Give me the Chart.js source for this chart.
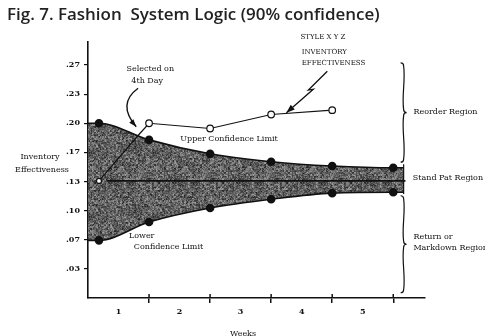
<!DOCTYPE html>
<html>
<head>
<meta charset="utf-8">
<script src="https://cdn.jsdelivr.net/npm/chart.js@4.4.1/dist/chart.umd.min.js"></script>
<style>
html,body{margin:0;padding:0;background:#fff;}
#wrap{width:485px;height:336px;position:relative;}
</style>
</head>
<body>
<div id="wrap"><canvas id="c" width="485" height="336"></canvas></div>
<script>
// ---- data ----
const weeks        = [0, 0.18, 1, 2, 3, 4, 5, 5.17];
const upperLimit   = [0.200, 0.200, 0.181, 0.165, 0.156, 0.151, 0.149, 0.149];
const lowerLimit   = [0.066, 0.066, 0.087, 0.103, 0.113, 0.120, 0.121, 0.121];
const limitMarkers = [false, true, true, true, true, true, true, false];
const styleWeeks   = [0.18, 0.82, 1, 2, 3, 4];
const styleXYZ     = [0.134, 0.186, 0.200, 0.194, 0.210, 0.215];
const styleMarkers = [true, false, true, true, true, true];
const meanWeeks    = [0.3, 5.2];
const meanValue    = [0.134, 0.134];
const weekTicks    = [1, 2, 3, 4, 5];
const weekLabels   = ['1', '2', '3', '4', '5'];
const yTickValues  = [1/30, 2/30, 3/30, 4/30, 5/30, 6/30, 7/30, 8/30];
const yTickLabels  = ['.03', '.07', '.10', '.13', '.17', '.20', '.23', '.27'];

const pts = (xs, ys) => xs.map((x, i) => ({x: x, y: ys[i]}));

// deterministic speckle texture for the confidence band
function makePattern() {
  const c = document.createElement('canvas');
  c.width = 64; c.height = 64;
  const g = c.getContext('2d');
  const img = g.createImageData(64, 64);
  for (let y = 0; y < 64; y++) {
    for (let x = 0; x < 64; x++) {
      const h = Math.sin(x * 12.9898 + y * 78.233) * 43758.5453;
      const f = h - Math.floor(h);
      const h2 = Math.sin((x >> 1) * 39.346 + (y >> 1) * 11.135) * 24634.634;
      const f2 = h2 - Math.floor(h2);
      const v = Math.round(30 + 135 * (0.5 * f + 0.5 * f2));
      const k = (y * 64 + x) * 4;
      img.data[k] = v; img.data[k+1] = v; img.data[k+2] = v; img.data[k+3] = 255;
    }
  }
  g.putImageData(img, 0, 0);
  return document.getElementById('c').getContext('2d').createPattern(c, 'repeat');
}

const SERIF = '"DejaVu Serif", "Liberation Serif", serif';

const decor = {
  id: 'decor',
  afterDraw(chart) {
    const ctx = chart.ctx;
    const xs = chart.scales.x, ys = chart.scales.y;
    const X = w => xs.getPixelForValue(w);
    const Y = v => ys.getPixelForValue(v);
    ctx.save();
    ctx.fillStyle = '#111';
    ctx.strokeStyle = '#111';

    // title, sized to span the same width as in the figure
    const title = 'Fig. 7. Fashion  System Logic (90% confidence)';
    ctx.font = '600 16px "Open Sans", Lato, sans-serif';
    const tw = ctx.measureText(title).width;
    const fs = 16 * 373 / tw;
    ctx.font = '600 ' + fs.toFixed(2) + 'px "Open Sans", Lato, sans-serif';
    ctx.textBaseline = 'alphabetic';
    ctx.textAlign = 'left';
    ctx.fillStyle = '#222';
    ctx.fillText(title, 7, 20);
    ctx.fillStyle = '#111';

    // x tick marks crossing the axis
    ctx.lineWidth = 1.5;
    weekTicks.forEach(w => {
      ctx.beginPath();
      ctx.moveTo(X(w), xs.top - 4);
      ctx.lineTo(X(w), xs.top);
      ctx.stroke();
    });

    const text = (t, w, v, align, font) => {
      ctx.font = font || ('8px ' + SERIF);
      ctx.textAlign = align || 'left';
      ctx.textBaseline = 'middle';
      ctx.fillText(t, X(w), Y(v));
    };

    // y-axis title (horizontal)
    ctx.font = '8px ' + SERIF;
    ctx.textAlign = 'center';
    ctx.textBaseline = 'middle';
    ctx.fillText('Inventory', 40, 157);
    ctx.fillText('Effectiveness', 42, 170);

    // x-axis title
    ctx.fillText('Weeks', X(2.54), 334);

    // annotations
    text('Selected on', 1.02, 0.262, 'center');
    text('4th Day', 0.97, 0.249, 'center');
    text('Upper Confidence Limit', 2.31, 0.182, 'center');
    text('Lower', 0.67, 0.071, 'left');
    text('Confidence Limit', 0.75, 0.058, 'left');
    text('STYLE X Y Z', 3.48, 0.2985, 'left', '7px ' + SERIF);
    text('INVENTORY', 3.5, 0.281, 'left', '7px ' + SERIF);
    text('EFFECTIVENESS', 3.5, 0.269, 'left', '7px ' + SERIF);
    text('Reorder Region', 5.33, 0.213, 'left');
    text('Stand Pat Region', 5.32, 0.137, 'left');
    text('Return or', 5.33, 0.070, 'left');
    text('Markdown Region', 5.33, 0.057, 'left');

    const arrowHead = (x0, y0, x1, y1, size) => {
      const a = Math.atan2(y1 - y0, x1 - x0);
      ctx.beginPath();
      ctx.moveTo(x1, y1);
      ctx.lineTo(x1 - size * Math.cos(a - 0.35), y1 - size * Math.sin(a - 0.35));
      ctx.lineTo(x1 - size * Math.cos(a + 0.35), y1 - size * Math.sin(a + 0.35));
      ctx.closePath();
      ctx.fill();
    };

    // curved arrow "Selected on 4th Day"
    ctx.lineWidth = 1.4;
    const ax0 = X(0.82), ay0 = Y(0.240), acx = X(0.47), acy = Y(0.222), ax1 = X(0.79), ay1 = Y(0.196);
    ctx.beginPath();
    ctx.moveTo(ax0, ay0);
    ctx.quadraticCurveTo(acx, acy, ax1, ay1);
    ctx.stroke();
    arrowHead(acx + (ax1 - acx) * 0.7, acy + (ay1 - acy) * 0.7, ax1, ay1, 8);

    // lightning arrow to the style line
    const L = [[3.92, 0.2595], [3.61, 0.238], [3.69, 0.239], [3.25, 0.212]];
    ctx.lineWidth = 1.3;
    ctx.beginPath();
    L.forEach((p, i) => { const px = X(p[0]), py = Y(p[1]); i ? ctx.lineTo(px, py) : ctx.moveTo(px, py); });
    ctx.stroke();
    arrowHead(X(L[2][0]), Y(L[2][1]), X(L[3][0]), Y(L[3][1]), 9);

    // braces
    const brace = (x, y1, y2, w) => {
      const ym = (y1 + y2) / 2;
      ctx.beginPath();
      ctx.moveTo(x - w, y1);
      ctx.quadraticCurveTo(x, y1, x, y1 + w);
      ctx.bezierCurveTo(x + 2, y1 + (ym - y1) * 0.35, x - 2, y1 + (ym - y1) * 0.65, x, ym - w);
      ctx.quadraticCurveTo(x, ym, x + w, ym);
      ctx.quadraticCurveTo(x, ym, x, ym + w);
      ctx.bezierCurveTo(x - 2, ym + (y2 - ym) * 0.35, x + 2, ym + (y2 - ym) * 0.65, x, y2 - w);
      ctx.quadraticCurveTo(x, y2, x - w, y2);
      ctx.stroke();
    };
    ctx.lineWidth = 1.2;
    const bx = X(5.17);
    brace(bx, Y(0.269), Y(0.1555), 3);
    brace(bx, Y(0.117), Y(0.006), 3);
    ctx.beginPath();
    ctx.moveTo(bx, Y(0.153));
    ctx.lineTo(bx, Y(0.119));
    ctx.stroke();

    ctx.restore();
  }
};

const chart = new Chart(document.getElementById('c'), {
  type: 'line',
  data: {
    datasets: [
      {
        label: 'Upper Confidence Limit',
        data: pts(weeks, upperLimit),
        borderColor: '#111', borderWidth: 1.6,
        backgroundColor: makePattern(),
        fill: '+1',
        cubicInterpolationMode: 'monotone',
        pointRadius: limitMarkers.map(m => m ? 3.5 : 0),
        pointBackgroundColor: '#111', pointBorderColor: '#111'
      },
      {
        label: 'Lower Confidence Limit',
        data: pts(weeks, lowerLimit),
        borderColor: '#111', borderWidth: 1.6,
        fill: false,
        cubicInterpolationMode: 'monotone',
        pointRadius: limitMarkers.map(m => m ? 3.5 : 0),
        pointBackgroundColor: '#111', pointBorderColor: '#111'
      },
      {
        label: 'Mean',
        data: pts(meanWeeks, meanValue),
        borderColor: '#111', borderWidth: 1.8,
        fill: false, pointRadius: 0
      },
      {
        label: 'Style XYZ',
        data: pts(styleWeeks, styleXYZ),
        borderColor: '#111', borderWidth: 1.2,
        fill: false,
        pointRadius: styleMarkers.map((m, i) => m ? (i === 0 ? 2.5 : 3.3) : 0),
        pointBackgroundColor: '#fff', pointBorderColor: '#111', pointBorderWidth: 1.2
      }
    ]
  },
  options: {
    responsive: false,
    animation: false,
    layout: { padding: { left: 0, top: 42, right: 60, bottom: 0 } },
    plugins: {
      legend: { display: false },
      tooltip: { enabled: false },
      filler: { drawTime: 'beforeDatasetsDraw' }
    },
    scales: {
      x: {
        type: 'linear', min: 0, max: 5.52,
        afterBuildTicks: s => { s.ticks = weekTicks.map(v => ({value: v})); },
        afterFit: s => { s.height = 38; },
        ticks: {
          callback: (v) => weekLabels[weekTicks.indexOf(v)] || '',
          labelOffset: -30.5, padding: 4,
          color: '#111', font: { family: SERIF, size: 8, weight: 'bold' },
          maxRotation: 0, autoSkip: false
        },
        grid: { display: true, drawOnChartArea: false, color: '#111', lineWidth: 1.5, tickLength: 5 },
        border: { display: true, color: '#111', width: 1.6 }
      },
      y: {
        type: 'linear', min: 0, max: 0.293,
        afterBuildTicks: s => { s.ticks = yTickValues.map(v => ({value: v})); },
        afterFit: s => { s.width = 88; },
        ticks: {
          callback: (v) => { const i = yTickValues.findIndex(t => Math.abs(t - v) < 1e-6); return i >= 0 ? yTickLabels[i] : ''; },
          padding: 4, color: '#111',
          font: { family: SERIF, size: 8, weight: 'bold' },
          autoSkip: false
        },
        grid: { display: true, drawOnChartArea: false, color: '#111', lineWidth: 1.2, tickLength: 4 },
        border: { display: true, color: '#111', width: 1.6 }
      }
    }
  },
  plugins: [decor]
});
</script>
</body>
</html>
